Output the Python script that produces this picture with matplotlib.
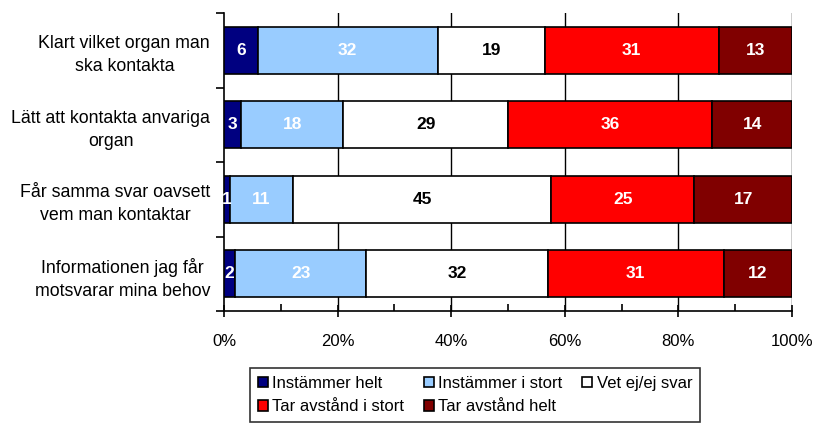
import numpy as np
import matplotlib
matplotlib.use("Agg")
import matplotlib.pyplot as plt
from matplotlib.ticker import MultipleLocator, FixedLocator

plt.rcParams["font.family"] = ["Liberation Sans", "DejaVu Sans"]

categories = [
    "Klart vilket organ man\nska kontakta",
    "Lätt att kontakta anvariga\norgan",
    "Får samma svar oavsett\nvem man kontaktar",
    "Informationen jag får\nmotsvarar mina behov",
]
series_names = [
    "Instämmer helt",
    "Instämmer i stort",
    "Vet ej/ej svar",
    "Tar avstånd i stort",
    "Tar avstånd helt",
]
instammer_helt = [6, 3, 1, 2]
instammer_i_stort = [32, 18, 11, 23]
vet_ej = [19, 29, 45, 32]
tar_avstand_i_stort = [31, 36, 25, 31]
tar_avstand_helt = [13, 14, 17, 12]

colors = ["#000080", "#99CCFF", "#FFFFFF", "#FF0000", "#800000"]
text_colors = ["white", "white", "black", "white", "white"]

data = np.array([instammer_helt, instammer_i_stort, vet_ej,
                 tar_avstand_i_stort, tar_avstand_helt], dtype=float)
shares = data / data.sum(axis=0) * 100

fig = plt.figure(figsize=(8.18, 4.26), dpi=100)
ax = fig.add_axes([224 / 818, 1 - 311 / 426, 568 / 818, 298 / 426])

y = np.arange(len(categories))
left = np.zeros(len(categories))
handles = []
for i, name in enumerate(series_names):
    bars = ax.barh(y, shares[i], left=left, height=0.63, color=colors[i],
                   edgecolor="black", linewidth=1.2, label=name, zorder=3)
    handles.append(bars)
    for j, b in enumerate(bars):
        ax.text(left[j] + shares[i][j] / 2, y[j], f"{int(data[i][j])}",
                ha="center", va="center", color=text_colors[i],
                fontsize=12.5, fontweight="bold", zorder=4)
    left += shares[i]

ax.set_xlim(0, 100)
ax.set_ylim(len(categories) - 0.5, -0.5)

ax.xaxis.set_major_locator(MultipleLocator(20))
ax.xaxis.set_minor_locator(MultipleLocator(10))
ax.set_xticklabels([f"{int(v)}%" for v in ax.get_xticks()])
ax.tick_params(axis="x", which="major", direction="inout", length=9,
               width=1.2, labelsize=12, pad=12)
ax.tick_params(axis="x", which="minor", direction="in", length=5, width=1.2)

ax.yaxis.set_major_locator(FixedLocator(y))
ax.set_yticklabels(categories, multialignment="center", fontsize=12.8,
                   linespacing=1.45)
ax.yaxis.set_minor_locator(FixedLocator(np.arange(-0.5, len(categories), 1)))
ax.tick_params(axis="y", which="major", length=0, pad=10)
ax.tick_params(axis="y", which="minor", direction="out", length=6, width=1.2)

for v in [20, 40, 60, 80, 100]:
    ax.axvline(v, color="black", linewidth=1, zorder=1)

ax.spines["top"].set_visible(False)
ax.spines["right"].set_visible(False)
ax.spines["left"].set_linewidth(1.2)
ax.spines["bottom"].set_linewidth(1.2)

# legend fills column by column, reorder so it reads row by row
order = [0, 3, 1, 4, 2]
leg = fig.legend(handles=[handles[k] for k in order],
                 labels=[series_names[k] for k in order], ncol=3,
                 loc="upper left", bbox_to_anchor=(242 / 818, 1 - 360 / 426),
                 fontsize=12, frameon=True, fancybox=False, edgecolor="black",
                 handlelength=0.6, handleheight=0.6, handletextpad=0.25,
                 columnspacing=1.2, borderpad=0.45, labelspacing=0.5)
leg.get_frame().set_linewidth(1.2)

fig.savefig("out.png", dpi=100)
